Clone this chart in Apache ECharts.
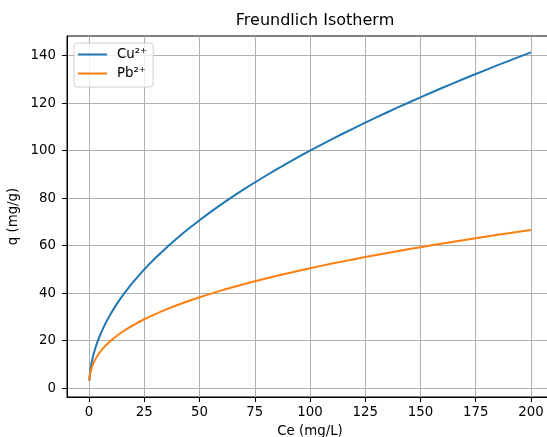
<!DOCTYPE html>
<html>
<head>
<meta charset="utf-8">
<title>Freundlich Isotherm</title>
<script src="https://cdn.jsdelivr.net/npm/echarts@6/dist/echarts.min.js"></script>
<style>
  html, body { margin: 0; padding: 0; background: #fff; overflow: hidden; }
  #chart { width: 547px; height: 437px; }
</style>
</head>
<body>
<div id="chart"></div>
<script>
// Ce (mg/L) sample points
const ce = [0.1, 0.3, 0.6, 1, 1.5, 2, 3, 4, 5, 6.5, 8, 10, 12.5, 15, 17.5, 20, 25, 30, 35, 40, 45, 50,
  60, 70, 80, 90, 100, 110, 120, 130, 140, 150, 160, 170, 180, 190, 200];
// q (mg/g)
const cuValues = [3.16, 5.48, 7.75, 10.0, 12.25, 14.14, 17.32, 20.0, 22.36, 25.5, 28.28, 31.62, 35.36,
  38.73, 41.83, 44.72, 50.0, 54.77, 59.16, 63.25, 67.08, 70.71, 77.46, 83.67, 89.44, 94.87, 100.0,
  104.88, 109.54, 114.02, 118.32, 122.47, 126.49, 130.38, 134.16, 137.84, 141.42];
const pbValues = [3.18, 4.94, 6.52, 8.0, 9.41, 10.56, 12.41, 13.93, 15.23, 16.91, 18.38, 20.1, 21.97,
  23.63, 25.14, 26.52, 28.99, 31.18, 33.17, 34.99, 36.68, 38.25, 41.15, 43.76, 46.17, 48.39, 50.48,
  52.44, 54.29, 56.06, 57.75, 59.36, 60.92, 62.41, 63.86, 65.25, 66.6];
const xTicks = [0, 25, 50, 75, 100, 125, 150, 175, 200];
const yTicks = [0, 20, 40, 60, 80, 100, 120, 140];

const font = "DejaVu Sans";
const fs = 13.33;

function pairs(xs, ys) {
  return xs.map((x, i) => [x, ys[i]]);
}

const chart = echarts.init(document.getElementById("chart"), null, { renderer: "canvas" });

const axisCommon = {
  axisLine: { show: true, onZero: false, lineStyle: { color: "#000", width: 1 } },
  splitLine: { show: true, lineStyle: { color: "#b0b0b0", width: 1 } },
  nameLocation: "middle",
  nameTextStyle: { fontFamily: font, fontSize: fs, color: "#000" },
};

const option = {
  animation: false,
  title: {
    text: "Freundlich Isotherm",
    left: 310,
    top: 8,
    textAlign: "center",
    textStyle: { fontFamily: font, fontSize: 16, fontWeight: "normal", color: "#000" },
  },
  grid: {
    left: 67,
    top: 36,
    width: 486,
    bottom: 40,
    outerBoundsMode: "none",
    containLabel: false,
    show: true,
    borderColor: "#000",
    borderWidth: 1,
    backgroundColor: "transparent",
  },
  legend: {
    orient: "vertical",
    left: 74,
    top: 43,
    padding: [5, 6, 7, 4],
    itemGap: 6,
    itemWidth: 29,
    itemHeight: 2,
    icon: "rect",
    backgroundColor: "rgba(255,255,255,0.8)",
    borderColor: "#d0d0d0",
    borderWidth: 1,
    borderRadius: 3,
    textStyle: { fontFamily: font, fontSize: fs, color: "#000", padding: [0, 0, 0, 5] },
    data: ["Cu²⁺", "Pb²⁺"],
  },
  xAxis: Object.assign({}, axisCommon, {
    type: "value",
    min: -10,
    max: 210,
    name: "Ce (mg/L)",
    nameGap: 28,
    axisTick: { show: true, inside: false, length: 5, customValues: xTicks, lineStyle: { color: "#000", width: 1 } },
    axisLabel: {
      customValues: xTicks,
      margin: 9,
      fontFamily: font,
      fontSize: fs,
      color: "#000",
    },
  }),
  yAxis: Object.assign({}, axisCommon, {
    type: "value",
    min: -3.75,
    max: 148.3,
    name: "q (mg/g)",
    nameGap: 42,
    axisTick: { show: true, inside: false, length: 5, customValues: yTicks, lineStyle: { color: "#000", width: 1 } },
    axisLabel: {
      customValues: yTicks,
      margin: 11,
      fontFamily: font,
      fontSize: fs,
      color: "#000",
    },
  }),
  series: [
    {
      name: "Cu²⁺",
      type: "line",
      data: pairs(ce, cuValues),
      symbol: "none",
      smooth: 0.3,
      lineStyle: { color: "#1f77b4", width: 2 },
      itemStyle: { color: "#1f77b4" },
      z: 3,
    },
    {
      name: "Pb²⁺",
      type: "line",
      data: pairs(ce, pbValues),
      symbol: "none",
      smooth: 0.3,
      lineStyle: { color: "#ff7f0e", width: 2 },
      itemStyle: { color: "#ff7f0e" },
      z: 3,
    },
  ],
};

chart.setOption(option);
</script>
</body>
</html>
